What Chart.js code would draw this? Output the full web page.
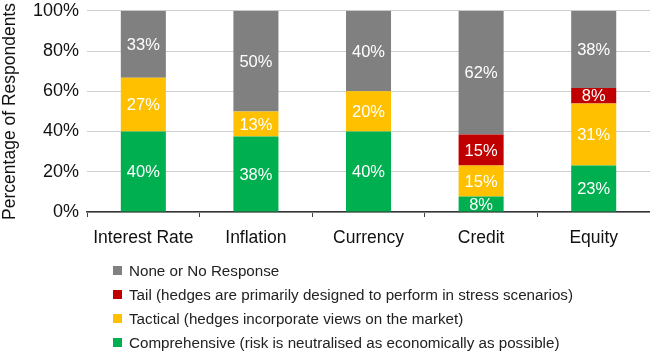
<!DOCTYPE html>
<html>
<head>
<meta charset="utf-8">
<script src="https://cdn.jsdelivr.net/npm/chart.js@4"></script>
<style>
  html, body { margin: 0; padding: 0; background: #fff; overflow: hidden; }
  #wrap { position: relative; width: 650px; height: 354px; overflow: hidden; }
  #c { position: absolute; left: 0; top: -8px; }
  #legend { position: absolute; left: 113px; top: 260px; font-family: "Liberation Sans", Arial, sans-serif; font-size: 15.2px; color: #222; }
  .lg-row { height: 24px; line-height: 22px; white-space: nowrap; }
  .lg-box { display: inline-block; width: 9px; height: 9px; margin-right: 7px; vertical-align: 1px; }
</style>
</head>
<body>
<div id="wrap">
  <canvas id="c" width="650" height="362"></canvas>
  <div id="legend"></div>
</div>
<script>
// 자산군별 헤지 전략 응답 비율 (%)
var CATEGORIES = ['Interest Rate', 'Inflation', 'Currency', 'Credit', 'Equity'];
var COMPREHENSIVE = [40, 37.5, 40, 7.7, 23.1];
var TACTICAL = [26.7, 12.5, 20, 15.4, 30.8];
var TAIL = [0, 0, 0, 15.4, 7.7];
var NONE = [33.3, 50, 40, 61.5, 38.4];
var Y_TICKS = [0, 20, 40, 60, 80, 100];

var SERIES_LABELS = [
  'Comprehensive (risk is neutralised as economically as possible)',
  'Tactical (hedges incorporate views on the market)',
  'Tail (hedges are primarily designed to perform in stress scenarios)',
  'None or No Response'
];
var SERIES_COLORS = ['#00b050', '#ffc000', '#c00000', '#808080'];

var FONT = '"Liberation Sans", Arial, sans-serif';

var segLabels = {
  id: 'segLabels',
  afterDatasetsDraw: function (chart) {
    var ctx = chart.ctx;
    ctx.save();
    ctx.font = '16.5px ' + FONT;
    ctx.fillStyle = '#ffffff';
    ctx.textAlign = 'center';
    ctx.textBaseline = 'middle';
    chart.data.datasets.forEach(function (ds, i) {
      chart.getDatasetMeta(i).data.forEach(function (bar, j) {
        var v = ds.data[j];
        if (!v) return;
        var p = bar.getProps(['x', 'y', 'base'], true);
        ctx.fillText(Math.round(v) + '%', p.x, (p.y + p.base) / 2 + 1);
      });
    });
    ctx.restore();
  }
};

var seriesData = [COMPREHENSIVE, TACTICAL, TAIL, NONE];
var datasets = seriesData.map(function (d, i) {
  return {
    label: SERIES_LABELS[i],
    data: d,
    backgroundColor: SERIES_COLORS[i],
    borderWidth: 0,
    categoryPercentage: 1,
    barPercentage: 0.4
  };
});

new Chart(document.getElementById('c'), {
  type: 'bar',
  data: { labels: CATEGORIES, datasets: datasets },
  options: {
    responsive: false,
    animation: false,
    layout: { padding: { top: 0, right: 0, left: 0, bottom: 94 } },
    plugins: { legend: { display: false }, tooltip: { enabled: false } },
    scales: {
      x: {
        stacked: true,
        grid: { offset: true, drawOnChartArea: false, drawTicks: true, tickLength: 5, color: '#444', lineWidth: 1 },
        border: { display: true, color: '#333', width: 1.5 },
        ticks: { color: '#111', font: { family: FONT, size: 17.5 }, padding: 11 }
      },
      y: {
        stacked: true,
        min: 0,
        max: 100,
        afterBuildTicks: function (axis) {
          axis.ticks = Y_TICKS.map(function (v) { return { value: v }; });
        },
        grid: { color: '#cfcfcf', lineWidth: 1, drawTicks: false },
        border: { display: false },
        ticks: {
          color: '#111',
          font: { family: FONT, size: 18 },
          padding: 8,
          callback: function (v) { return v + '%'; }
        },
        title: {
          display: true,
          text: 'Percentage of Respondents',
          color: '#111',
          font: { family: FONT, size: 17.5 },
          padding: { top: 0, bottom: 4 }
        }
      }
    }
  },
  plugins: [segLabels]
});

// 범례: 원본처럼 역순, 세로 배치
var legendEl = document.getElementById('legend');
for (var i = SERIES_LABELS.length - 1; i >= 0; i--) {
  var row = document.createElement('div');
  row.className = 'lg-row';
  var box = document.createElement('span');
  box.className = 'lg-box';
  box.style.background = SERIES_COLORS[i];
  row.appendChild(box);
  row.appendChild(document.createTextNode(SERIES_LABELS[i]));
  legendEl.appendChild(row);
}
</script>
</body>
</html>
